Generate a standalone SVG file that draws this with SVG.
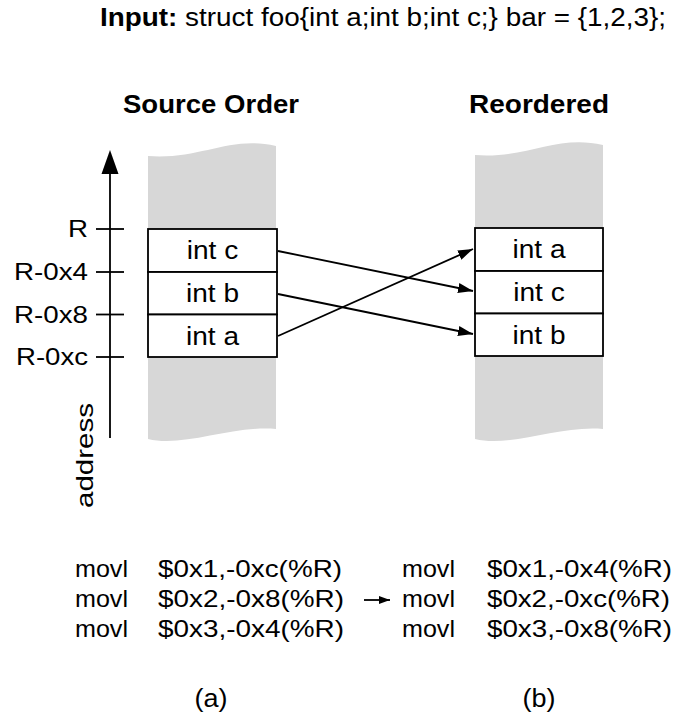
<svg xmlns="http://www.w3.org/2000/svg" width="677" height="715" viewBox="0 0 677 715">
<defs>
<style>
text{font-family:"Liberation Sans",Arial,Helvetica,sans-serif;fill:#000}
.t{font-size:24px}
.m{font-size:25px}
.b{font-weight:bold}
.box{fill:#fff;stroke:#000;stroke-width:1.8}
.band{fill:#d7d7d7}
.ln{stroke:#000;stroke-width:1.8;fill:none}
</style>
<marker id="ah" viewBox="0 0 15 10" refX="15" refY="5" markerWidth="15" markerHeight="10" markerUnits="userSpaceOnUse" orient="auto">
<path d="M0,0 L15,5 L0,10 Z" fill="#000"/>
</marker>
<marker id="ahs" viewBox="0 0 11 8" refX="11" refY="4" markerWidth="11" markerHeight="8" markerUnits="userSpaceOnUse" orient="auto">
<path d="M0,0 L11,4 L0,8 Z" fill="#000"/>
</marker>
</defs>
<rect width="677" height="715" fill="#fff"/>
<g id="title">
<text class="m" x="100" y="26" textLength="566" lengthAdjust="spacingAndGlyphs"><tspan class="b">Input:</tspan> struct foo{int a;int b;int c;} bar = {1,2,3};</text>
</g>
<g id="head-a"><text class="m b" x="211" y="113" text-anchor="middle" textLength="176" lengthAdjust="spacingAndGlyphs">Source Order</text></g>
<g id="head-b"><text class="m b" x="539" y="113" text-anchor="middle" textLength="140" lengthAdjust="spacingAndGlyphs">Reordered</text></g>
<g id="band-a"><path class="band" d="M148,156 C200,160 230,135 276,146 L276,429 C233,425 183,448 148,439 Z"/></g>
<g id="band-b"><path class="band" d="M475,155 C527,159 557,134 603,145 L603,429 C560,425 510,448 475,439 Z"/></g>
<g id="axis">
<line class="ln" x1="110" y1="438" x2="110" y2="170"/>
<path d="M110,150 L118.5,174 L101.5,174 Z" fill="#000"/>
<line class="ln" x1="96" y1="229" x2="124" y2="229"/>
<line class="ln" x1="96" y1="272" x2="124" y2="272"/>
<line class="ln" x1="96" y1="314.5" x2="124" y2="314.5"/>
<line class="ln" x1="96" y1="357" x2="124" y2="357"/>
<text class="t" x="88" y="237" text-anchor="end" textLength="20" lengthAdjust="spacingAndGlyphs">R</text>
<text class="t" x="88" y="280" text-anchor="end" textLength="74" lengthAdjust="spacingAndGlyphs">R-0x4</text>
<text class="t" x="88" y="322.5" text-anchor="end" textLength="74" lengthAdjust="spacingAndGlyphs">R-0x8</text>
<text class="t" x="88" y="365" text-anchor="end" textLength="72" lengthAdjust="spacingAndGlyphs">R-0xc</text>
<text class="t" transform="translate(93,508) rotate(-90)" textLength="105" lengthAdjust="spacingAndGlyphs">address</text>
</g>
<g id="src-c"><rect class="box" x="148" y="229" width="129" height="43"/><text class="m" x="212.5" y="259" text-anchor="middle" textLength="51.5" lengthAdjust="spacingAndGlyphs">int c</text></g>
<g id="src-b"><rect class="box" x="148" y="272" width="129" height="42.5"/><text class="m" x="212.5" y="302" text-anchor="middle" textLength="53" lengthAdjust="spacingAndGlyphs">int b</text></g>
<g id="src-a"><rect class="box" x="148" y="314.5" width="129" height="42.5"/><text class="m" x="212.5" y="344.5" text-anchor="middle" textLength="53" lengthAdjust="spacingAndGlyphs">int a</text></g>
<g id="dst-a"><rect class="box" x="475" y="228" width="128" height="43"/><text class="m" x="539" y="258" text-anchor="middle" textLength="53" lengthAdjust="spacingAndGlyphs">int a</text></g>
<g id="dst-c"><rect class="box" x="475" y="271" width="128" height="42.5"/><text class="m" x="539" y="301" text-anchor="middle" textLength="51.5" lengthAdjust="spacingAndGlyphs">int c</text></g>
<g id="dst-b"><rect class="box" x="475" y="313.5" width="128" height="42.5"/><text class="m" x="539" y="343.5" text-anchor="middle" textLength="53" lengthAdjust="spacingAndGlyphs">int b</text></g>
<g id="connectors">
<line class="ln" x1="278" y1="251" x2="473" y2="291" marker-end="url(#ah)"/>
<line class="ln" x1="278" y1="294" x2="473" y2="334" marker-end="url(#ah)"/>
<line class="ln" x1="278" y1="336" x2="473" y2="249" marker-end="url(#ah)"/>
<line class="ln" x1="364" y1="600" x2="390" y2="600" marker-end="url(#ahs)"/>
</g>
<g id="code-a">
<text class="t" x="75" y="577" textLength="53" lengthAdjust="spacingAndGlyphs">movl</text><text class="t" x="158" y="577" textLength="184" lengthAdjust="spacingAndGlyphs">$0x1,-0xc(%R)</text>
<text class="t" x="75" y="607" textLength="53" lengthAdjust="spacingAndGlyphs">movl</text><text class="t" x="158" y="607" textLength="186" lengthAdjust="spacingAndGlyphs">$0x2,-0x8(%R)</text>
<text class="t" x="75" y="637" textLength="53" lengthAdjust="spacingAndGlyphs">movl</text><text class="t" x="158" y="637" textLength="186" lengthAdjust="spacingAndGlyphs">$0x3,-0x4(%R)</text>
</g>
<g id="code-b">
<text class="t" x="402" y="577" textLength="53" lengthAdjust="spacingAndGlyphs">movl</text><text class="t" x="487" y="577" textLength="185" lengthAdjust="spacingAndGlyphs">$0x1,-0x4(%R)</text>
<text class="t" x="402" y="607" textLength="53" lengthAdjust="spacingAndGlyphs">movl</text><text class="t" x="487" y="607" textLength="183" lengthAdjust="spacingAndGlyphs">$0x2,-0xc(%R)</text>
<text class="t" x="402" y="637" textLength="53" lengthAdjust="spacingAndGlyphs">movl</text><text class="t" x="487" y="637" textLength="185" lengthAdjust="spacingAndGlyphs">$0x3,-0x8(%R)</text>
</g>
<g id="cap-a"><text class="m" x="211" y="707" text-anchor="middle" textLength="33" lengthAdjust="spacingAndGlyphs">(a)</text></g>
<g id="cap-b"><text class="m" x="539" y="707" text-anchor="middle" textLength="33" lengthAdjust="spacingAndGlyphs">(b)</text></g>
</svg>
